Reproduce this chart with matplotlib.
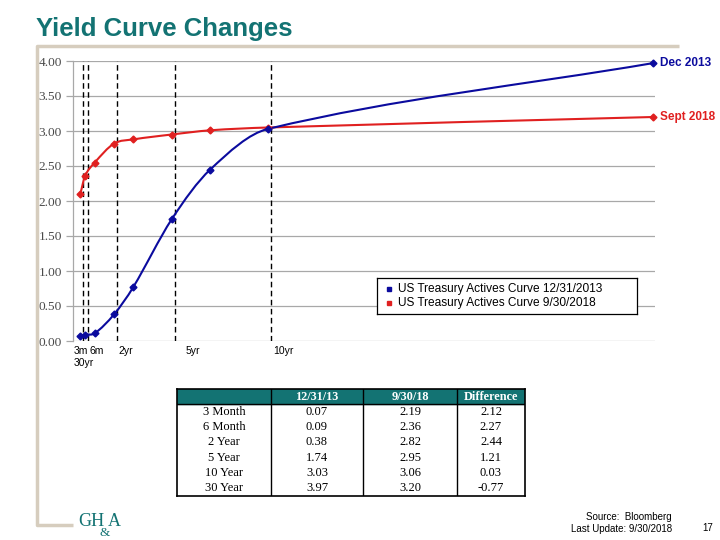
import matplotlib
matplotlib.use("Agg")
import matplotlib.pyplot as plt
from matplotlib.path import Path
from matplotlib.patches import PathPatch
import numpy as np

# ---- data ----
maturities = [0.25, 0.5, 1, 2, 3, 5, 7, 10, 30]
dec2013 = [0.07, 0.09, 0.11, 0.38, 0.77, 1.74, 2.45, 3.03, 3.97]
sep2018 = [2.10, 2.36, 2.55, 2.82, 2.88, 2.95, 3.01, 3.05, 3.20]
marker_lines = [0.25, 0.5, 2, 5, 10, 30]
yticks = [0.0, 0.5, 1.0, 1.5, 2.0, 2.5, 3.0, 3.5, 4.0]

row_labels = ["3 Month", "6 Month", "2 Year", "5 Year", "10 Year", "30 Year"]
col_labels = ["", "12/31/13", "9/30/18", "Difference"]
col_1231 = ["0.07", "0.09", "0.38", "1.74", "3.03", "3.97"]
col_0930 = ["2.19", "2.36", "2.82", "2.95", "3.06", "3.20"]
col_diff = ["2.12", "2.27", "2.44", "1.21", "0.03", "-0.77"]

BLUE = "#0B0B9E"
RED = "#E02020"
TEAL = "#137373"
BEIGE = "#D6CDBE"
GRID = "#A8A8A8"

W, H = 720, 540
fig = plt.figure(figsize=(7.2, 5.4), dpi=100)

def fx(px):
    return px / W

def fy(py):
    return 1 - py / H

# title
fig.text(fx(36), fy(29), "Yield Curve Changes", color=TEAL, fontsize=18.5,
         fontweight="bold", family="Liberation Sans", va="center", ha="left")

# beige frame
fig.add_artist(plt.Line2D([fx(679), fx(37), fx(37), fx(73)],
                          [fy(46), fy(46), fy(525), fy(525)],
                          color=BEIGE, lw=2.5, solid_capstyle="butt"))

# axes
ax = fig.add_axes([fx(73), fy(341), (655 - 73) / W, (341 - 61) / H])
ax.set_xlim(-0.13, 30.1)
ax.set_ylim(0, 4)
for s in ["top", "right", "bottom"]:
    ax.spines[s].set_visible(False)
ax.spines["left"].set_color(GRID)
ax.spines["left"].set_linewidth(0.9)
ax.set_yticks(yticks)
ax.set_yticklabels([f"{v:.2f}" for v in yticks], family="Liberation Serif",
                   fontsize=9.6, color="#4a4a4a")
ax.tick_params(axis="y", length=5, color=GRID, width=0.9, pad=3)
ax.set_xticks([])
ax.grid(axis="y", color=GRID, lw=0.9)
ax.set_axisbelow(True)

for m in marker_lines:
    ax.axvline(m + 0.15, color="black", lw=1.0, ls=(0, (4, 2.5)), zorder=1)


def smooth_path(xs, ys):
    x = np.asarray(xs, float)
    y = np.asarray(ys, float)
    h = np.diff(x)
    n = len(x)
    m = np.zeros(n)
    for i in range(1, n - 1):
        m[i] = (y[i + 1] - y[i - 1]) / (x[i + 1] - x[i - 1])
    m[0] = (y[1] - y[0]) / h[0]
    m[-1] = (y[-1] - y[-2]) / h[-1]
    verts = [(x[0], y[0])]
    codes = [Path.MOVETO]
    for i in range(n - 1):
        c1 = (x[i] + h[i] / 3, y[i] + m[i] * h[i] / 3)
        c2 = (x[i + 1] - h[i] / 3, y[i + 1] - m[i + 1] * h[i] / 3)
        verts += [c1, c2, (x[i + 1], y[i + 1])]
        codes += [Path.CURVE4] * 3
    return Path(verts, codes)


for ys, col in [(sep2018, RED), (dec2013, BLUE)]:
    patch = PathPatch(smooth_path(maturities, ys), facecolor="none",
                      edgecolor=col, lw=1.5, zorder=3, clip_on=False)
    ax.add_patch(patch)
    ax.plot(maturities, ys, ls="none", marker="D", ms=3.5, color=col,
            zorder=4, clip_on=False)

ax.text(30.35, dec2013[-1], "Dec 2013", color=BLUE, fontsize=8.5,
        fontweight="bold", family="Liberation Sans", va="center", ha="left")
ax.text(30.35, sep2018[-1], "Sept 2018", color=RED, fontsize=8.5,
        fontweight="bold", family="Liberation Sans", va="center", ha="left")

# x labels
xl_kw = dict(fontsize=7.5, family="Liberation Sans", color="black", va="center", ha="left")
fig.text(fx(74), fy(351), "3m", **xl_kw)
fig.text(fx(90), fy(351), "6m", **xl_kw)
fig.text(fx(74), fy(363), "30yr", **xl_kw)
fig.text(fx(118), fy(351), "2yr", **xl_kw)
fig.text(fx(186), fy(351), "5yr", **xl_kw)
fig.text(fx(273), fy(351), "10yr", **xl_kw)

# legend
lg = fig.add_axes([fx(377), fy(314), (637 - 377) / W, (314 - 278) / H])
lg.set_xlim(0, 260)
lg.set_ylim(36, 0)
lg.set_xticks([])
lg.set_yticks([])
for s in lg.spines.values():
    s.set_linewidth(0.9)
lg.plot([12], [11], marker="s", ms=2.5, color=BLUE)
lg.plot([12], [25], marker="s", ms=2.5, color=RED)
lg.text(21, 11, "US Treasury Actives Curve 12/31/2013", fontsize=8.6,
        family="Liberation Sans", va="center")
lg.text(21, 25, "US Treasury Actives Curve 9/30/2018", fontsize=8.6,
        family="Liberation Sans", va="center")

# table
tx0, tx1 = 177, 525
ty0, ty1 = 389, 496
col_edges = [177, 271, 363, 457, 525]
tb = fig.add_axes([fx(tx0), fy(ty1), (tx1 - tx0) / W, (ty1 - ty0) / H])
tb.set_xlim(tx0, tx1)
tb.set_ylim(ty1, ty0)
tb.set_xticks([])
tb.set_yticks([])
for s in tb.spines.values():
    s.set_linewidth(1.2)
tb.axhspan(ty0, 403.5, color=TEAL, zorder=0)
tb.axhline(403.5, color="black", lw=1.0)
for e in col_edges[1:-1]:
    tb.axvline(e, color="black", lw=1.0)
centers = [(col_edges[i] + col_edges[i + 1]) / 2 for i in range(4)]
for i, lab in enumerate(col_labels):
    tb.text(centers[i], 396.5, lab, color="white", fontweight="bold",
            family="Liberation Serif", fontsize=8.8, ha="center", va="center")
row_ys = [412, 427.2, 442.4, 457.6, 472.8, 488]
cols = [row_labels, col_1231, col_0930, col_diff]
for ci, col in enumerate(cols):
    for ri, val in enumerate(col):
        tb.text(centers[ci], row_ys[ri], val, family="Liberation Serif",
                fontsize=9, ha="center", va="center", color="black")

# footer logo
fig.text(fx(78), fy(521), "GH", color=TEAL, family="Liberation Serif",
         fontsize=13, va="center", ha="left")
fig.text(fx(100), fy(533), "&", color=TEAL, family="Liberation Serif",
         fontsize=9.5, va="center", ha="left")
fig.text(fx(108), fy(521), "A", color=TEAL, family="Liberation Serif",
         fontsize=13, va="center", ha="left")
fig.text(fx(672), fy(517), "Source:  Bloomberg", fontsize=7,
         family="Liberation Sans", ha="right", va="center")
fig.text(fx(672), fy(529), "Last Update: 9/30/2018", fontsize=7,
         family="Liberation Sans", ha="right", va="center")
fig.text(fx(708), fy(528), "17", fontsize=7, family="Liberation Sans",
         ha="center", va="center")

fig.savefig("out.png", dpi=100)
